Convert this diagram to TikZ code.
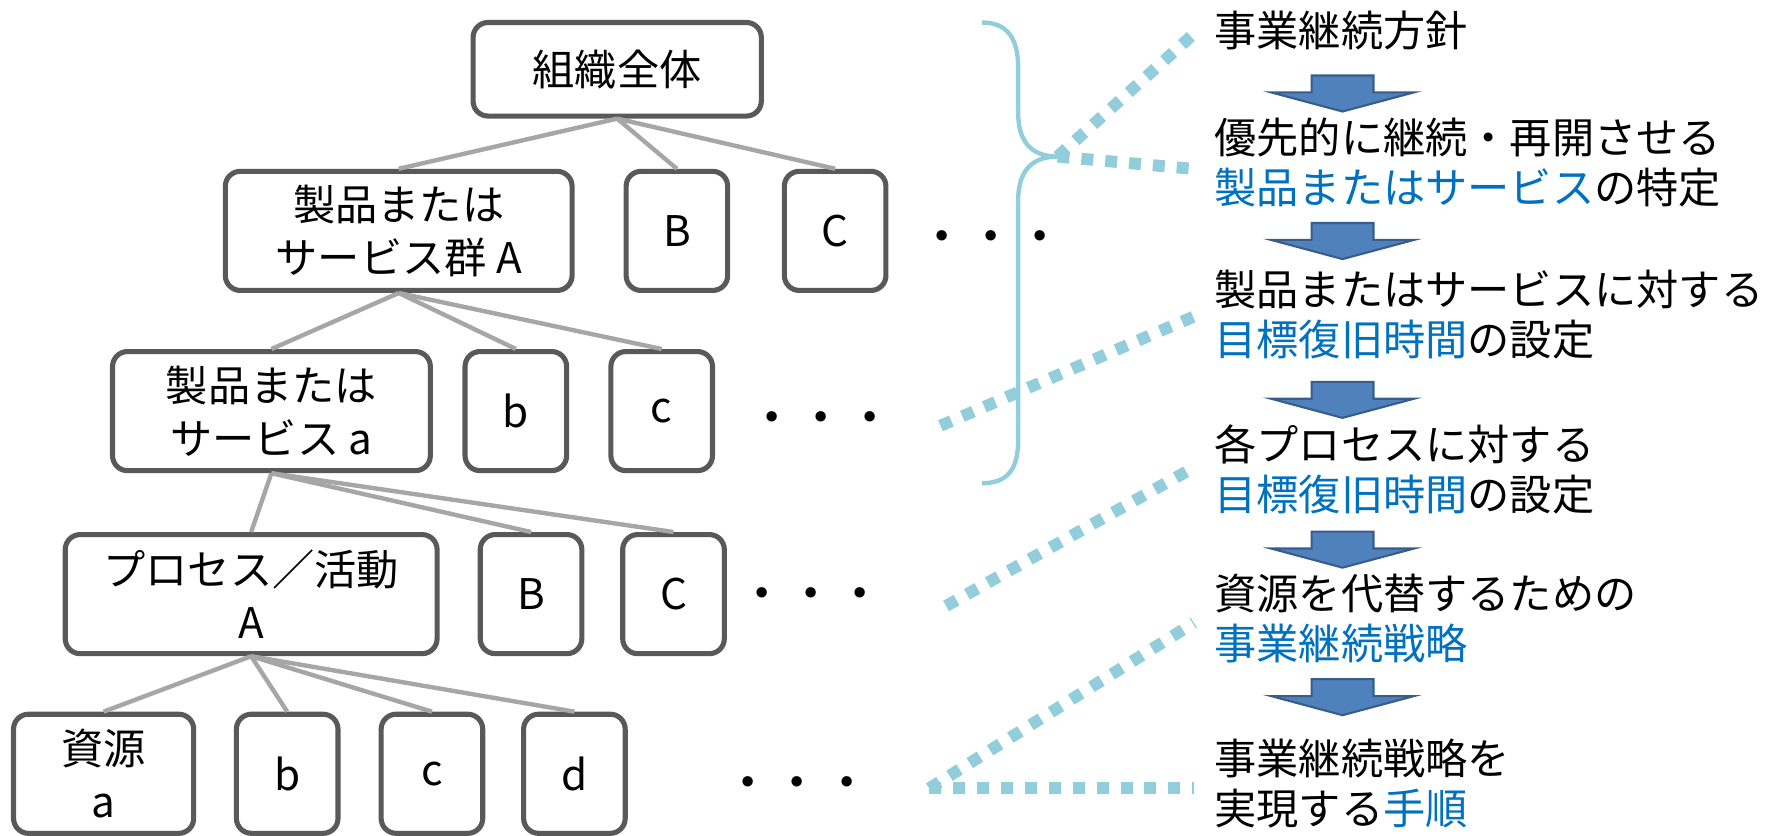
\documentclass[tikz,border=0pt]{standalone}
\usepackage{fontspec}
\setmainfont{Noto Sans CJK JP}
\definecolor{boxgray}{HTML}{595959}
\definecolor{linkgray}{HTML}{A6A6A6}
\definecolor{leadblue}{HTML}{92CDDC}
\definecolor{keyblue}{HTML}{0070C0}
\definecolor{arrowblue}{HTML}{4F81BD}
\definecolor{arrowedge}{HTML}{385D8A}
\tikzset{
  unit/.style={draw=boxgray, line width=2.9pt, rounded corners=8.5pt, fill=white, align=center, inner sep=0pt, font=\fontsize{24}{30}\selectfont},
  leaf/.style={unit, minimum width=2.03cm, minimum height=2.38cm},
  link/.style={draw=linkgray, line width=2.5pt},
  lead/.style={draw=leadblue, line width=6.8pt, dash pattern=on 6.8pt off 6.8pt},
  curl/.style={draw=leadblue, line width=2.5pt},
  flow/.style={fill=arrowblue, draw=arrowedge, line width=1.2pt},
  phase/.style={anchor=west, align=left, inner sep=0pt, font=\fontsize{24}{28.5}\selectfont},
  more/.style={inner sep=0pt, font=\fontsize{28}{28}\selectfont}
}
\begin{document}
\begin{tikzpicture}[x=0.0225cm, y=-0.0225cm]
  \useasboundingbox (0,0) rectangle (1568,742);

  \node[unit, minimum width=5.76cm, minimum height=1.87cm] (org) at (548, 61.5) {組織全体};

  \node[unit, minimum width=6.93cm, minimum height=2.38cm] (grpA) at (354, 205) {製品または\\サービス群 A};
  \node[leaf] (grpB) at (601, 205) {B};
  \node[leaf] (grpC) at (741.5, 205) {C};
  \node[more] (dotsG) at (880, 215) {・・・};

  \node[unit, minimum width=6.35cm, minimum height=2.38cm] (svcA) at (241, 365) {製品または\\サービス a};
  \node[leaf] (svcB) at (458, 365) {b};
  \node[leaf] (svcC) at (587.5, 365) {c};
  \node[more] (dotsS) at (729, 376) {・・・};

  \node[unit, minimum width=7.43cm, minimum height=2.38cm] (procA) at (223, 527.5) {プロセス／活動\\A};
  \node[leaf] (procB) at (471.5, 527.5) {B};
  \node[leaf] (procC) at (598, 527.5) {C};
  \node[more] (dotsP) at (720, 532) {・・・};

  \node[unit, minimum width=3.6cm, minimum height=2.38cm] (resA) at (92, 687) {資源\\a};
  \node[leaf] (resB) at (255, 687) {b};
  \node[leaf] (resC) at (383.5, 687) {c};
  \node[leaf] (resD) at (510, 687) {d};
  \node[more] (dotsR) at (708, 700) {・・・};

  \foreach \c in {grpA, grpB, grpC}
    \draw[link] (org.south) -- (\c.north);
  \foreach \c in {svcA, svcB, svcC}
    \draw[link] (grpA.south) -- (\c.north);
  \foreach \c in {procA, procB, procC}
    \draw[link] (svcA.south) -- (\c.north);
  \foreach \c in {resA, resB, resC, resD}
    \draw[link] (procA.south) -- (\c.north);

  \node[phase] (stepA) at (1078, 27) {事業継続方針};
  \node[phase] (stepB) at (1078, 144.5) {優先的に継続・再開させる\\\textcolor{keyblue}{製品またはサービス}の特定};
  \node[phase] (stepC) at (1078, 279.5) {製品またはサービスに対する\\\textcolor{keyblue}{目標復旧時間}の設定};
  \node[phase] (stepD) at (1078, 417) {各プロセスに対する\\\textcolor{keyblue}{目標復旧時間}の設定};
  \node[phase] (stepE) at (1078, 549) {資源を代替するための\\\textcolor{keyblue}{事業継続戦略}};
  \node[phase] (stepF) at (1078, 696) {事業継続戦略を\\実現する\textcolor{keyblue}{手順}};

  \foreach \y in {67, 198, 339, 472, 603}
    \draw[flow] (1164.5,\y) -- (1219.5,\y) -- (1219.5,\y+15) -- (1255.5,\y+15) -- (1192,\y+32)
      -- (1128.5,\y+15) -- (1164.5,\y+15) -- cycle;

  \draw[curl] (872,20) .. controls (895,20) and (904,35) .. (904,60) -- (904,100)
    .. controls (904,125) and (915,139) .. (939,139)
    .. controls (915,139) and (904,153) .. (904,178) -- (904,391)
    .. controls (904,416) and (895,429) .. (872,429);

  \coordinate (tip) at (939,139);
  \coordinate (fromS) at (835,378);
  \coordinate (fromP) at (840,538);
  \coordinate (fromR) at (825,700);
  \coordinate (endA) at (1060,30);
  \coordinate (endB) at (1060,150);
  \coordinate (endC) at (1060,281);
  \coordinate (endD) at (1060,415);
  \coordinate (endE) at (1060,553);
  \coordinate (endF) at (1060,700);
  \draw[lead] (tip) -- (endA);
  \draw[lead] (tip) -- (endB);
  \draw[lead] (fromS) -- (endC);
  \draw[lead] (fromP) -- (endD);
  \draw[lead] (fromR) -- (endE);
  \draw[lead] (fromR) -- (endF);
\end{tikzpicture}
\end{document}
